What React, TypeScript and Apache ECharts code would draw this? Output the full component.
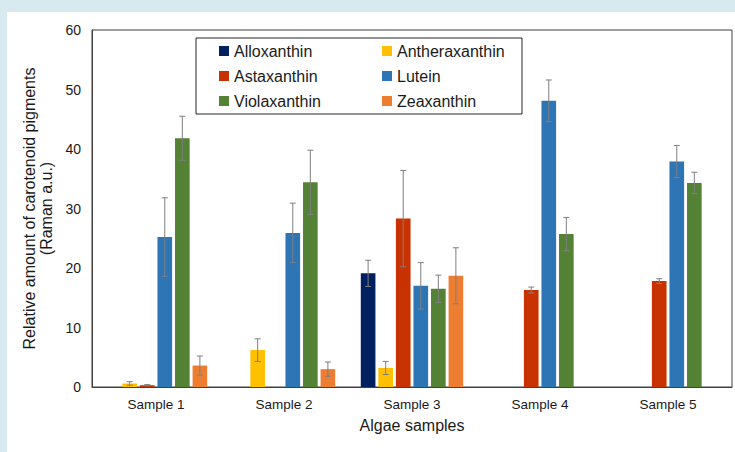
import React, { useEffect, useRef } from "react";
import * as echarts from "echarts";

const categories = ["Sample 1", "Sample 2", "Sample 3", "Sample 4", "Sample 5"];
const seriesNames = ["Alloxanthin", "Antheraxanthin", "Astaxanthin", "Lutein", "Violaxanthin", "Zeaxanthin"];
const seriesColors = ["#002060", "#FFC000", "#C83200", "#2E75B6", "#548235", "#ED7D31"];

const alloxanthin = [null, null, 19.1, null, null];
const alloxanthinErr = [null, null, 2.2, null, null];
const antheraxanthin = [0.6, 6.2, 3.2, null, null];
const antheraxanthinErr = [0.3, 1.9, 1.1, null, null];
const astaxanthin = [0.3, null, 28.3, 16.3, 17.8];
const astaxanthinErr = [0.1, null, 8.1, 0.5, 0.4];
const lutein = [25.2, 25.9, 17.0, 48.1, 37.9];
const luteinErr = [6.6, 5.0, 3.9, 3.5, 2.7];
const violaxanthin = [41.8, 34.4, 16.5, 25.7, 34.3];
const violaxanthinErr = [3.7, 5.4, 2.3, 2.8, 1.8];
const zeaxanthin = [3.6, 3.0, 18.7, null, null];
const zeaxanthinErr = [1.6, 1.2, 4.7, null, null];

const yTicks = [0, 10, 20, 30, 40, 50, 60];

const values = [alloxanthin, antheraxanthin, astaxanthin, lutein, violaxanthin, zeaxanthin];
const errors = [alloxanthinErr, antheraxanthinErr, astaxanthinErr, luteinErr, violaxanthinErr, zeaxanthinErr];

const FONT = "Liberation Sans, Arial, sans-serif";
const TXT = "#1a1a1a";

export default function App() {
  const ref = useRef<HTMLDivElement>(null);
  useEffect(() => {
    if (!ref.current) return;
    const chart = echarts.init(ref.current, undefined, { renderer: "svg" });
    const n = seriesNames.length;
    const catGap = 0.2;
    const barGap = 0.2;

    const barSeries = seriesNames.map((name, i) => ({
      name,
      type: "bar",
      data: values[i],
      barCategoryGap: "20%",
      barGap: "20%",
      itemStyle: { color: seriesColors[i] },
    }));

    const errSeries = seriesNames.map((name, i) => ({
      name: name + " error",
      type: "custom",
      z: 5,
      data: categories
        .map((c, k) => (values[i][k] == null ? null : [k, values[i][k], errors[i][k]]))
        .filter((d) => d != null),
      encode: { x: 0, y: 1 },
      renderItem: (params: any, api: any) => {
        const k = api.value(0);
        const v = api.value(1);
        const e = api.value(2);
        const band = api.size([1, 0])[0];
        const total = band * (1 - catGap);
        const w = total / (n + (n - 1) * barGap);
        const center = api.coord([k, 0])[0];
        const x = center - total / 2 + i * w * (1 + barGap) + w / 2;
        const yTop = api.coord([k, v + e])[1];
        const yBot = api.coord([k, Math.max(v - e, 0)])[1];
        const cap = 3;
        const style = { stroke: "#7f7f7f", lineWidth: 1 };
        return {
          type: "group",
          children: [
            { type: "line", shape: { x1: x, y1: yTop, x2: x, y2: yBot }, style },
            { type: "line", shape: { x1: x - cap, y1: yTop, x2: x + cap, y2: yTop }, style },
            { type: "line", shape: { x1: x - cap, y1: yBot, x2: x + cap, y2: yBot }, style },
          ],
        };
      },
    }));

    const legendCommon = {
      orient: "vertical",
      padding: 0,
      itemWidth: 10,
      itemHeight: 10,
      itemGap: 9,
      icon: "rect",
      selectedMode: false,
      textStyle: { fontSize: 16, lineHeight: 16, color: TXT, fontFamily: FONT },
    };

    chart.setOption({
      animation: false,
      backgroundColor: "#d6eaf0",
      textStyle: { fontFamily: FONT },
      graphic: [
        { type: "rect", shape: { x: 7, y: 12, width: 728, height: 440 }, style: { fill: "#ffffff" }, z: -10, silent: true },
        { type: "rect", shape: { x: 196, y: 38, width: 326, height: 76 }, style: { fill: "#ffffff", stroke: "#262626", lineWidth: 1 }, z: 10, silent: true },
      ],
      legend: [
        { ...legendCommon, left: 219, top: 43, data: [seriesNames[0], seriesNames[2], seriesNames[4]], z: 20 },
        { ...legendCommon, left: 382, top: 43, data: [seriesNames[1], seriesNames[3], seriesNames[5]], z: 20 },
      ],
      grid: {
        left: 92,
        right: 3,
        top: 30,
        bottom: 65,
        show: true,
        borderColor: "#404040",
        borderWidth: 1,
        backgroundColor: "transparent",
      },
      xAxis: {
        type: "category",
        data: categories,
        axisTick: { show: false },
        axisLine: { lineStyle: { color: "#404040" } },
        axisLabel: { fontSize: 13.5, color: TXT, margin: 10, fontFamily: FONT },
        name: "Algae samples",
        nameLocation: "middle",
        nameGap: 30,
        nameTextStyle: { fontSize: 16, color: TXT, fontFamily: FONT },
      },
      yAxis: {
        type: "value",
        min: yTicks[0],
        max: yTicks[yTicks.length - 1],
        interval: 10,
        splitLine: { show: false },
        axisTick: { show: false },
        axisLine: { show: true, lineStyle: { color: "#404040" } },
        axisLabel: { fontSize: 14, color: TXT, margin: 11, fontFamily: FONT },
        name: "Relative amount of carotenoid pigments\n(Raman a.u.)",
        nameLocation: "middle",
        nameRotate: 90,
        nameGap: 30,
        nameTextStyle: { fontSize: 16, lineHeight: 17, color: TXT, fontFamily: FONT },
      },
      series: [...barSeries, ...errSeries],
    });
    return () => chart.dispose();
  }, []);
  return (
    <div
      ref={ref}
      style={{ position: "fixed", left: 0, top: 0, width: 735, height: 452 }}
    />
  );
}
